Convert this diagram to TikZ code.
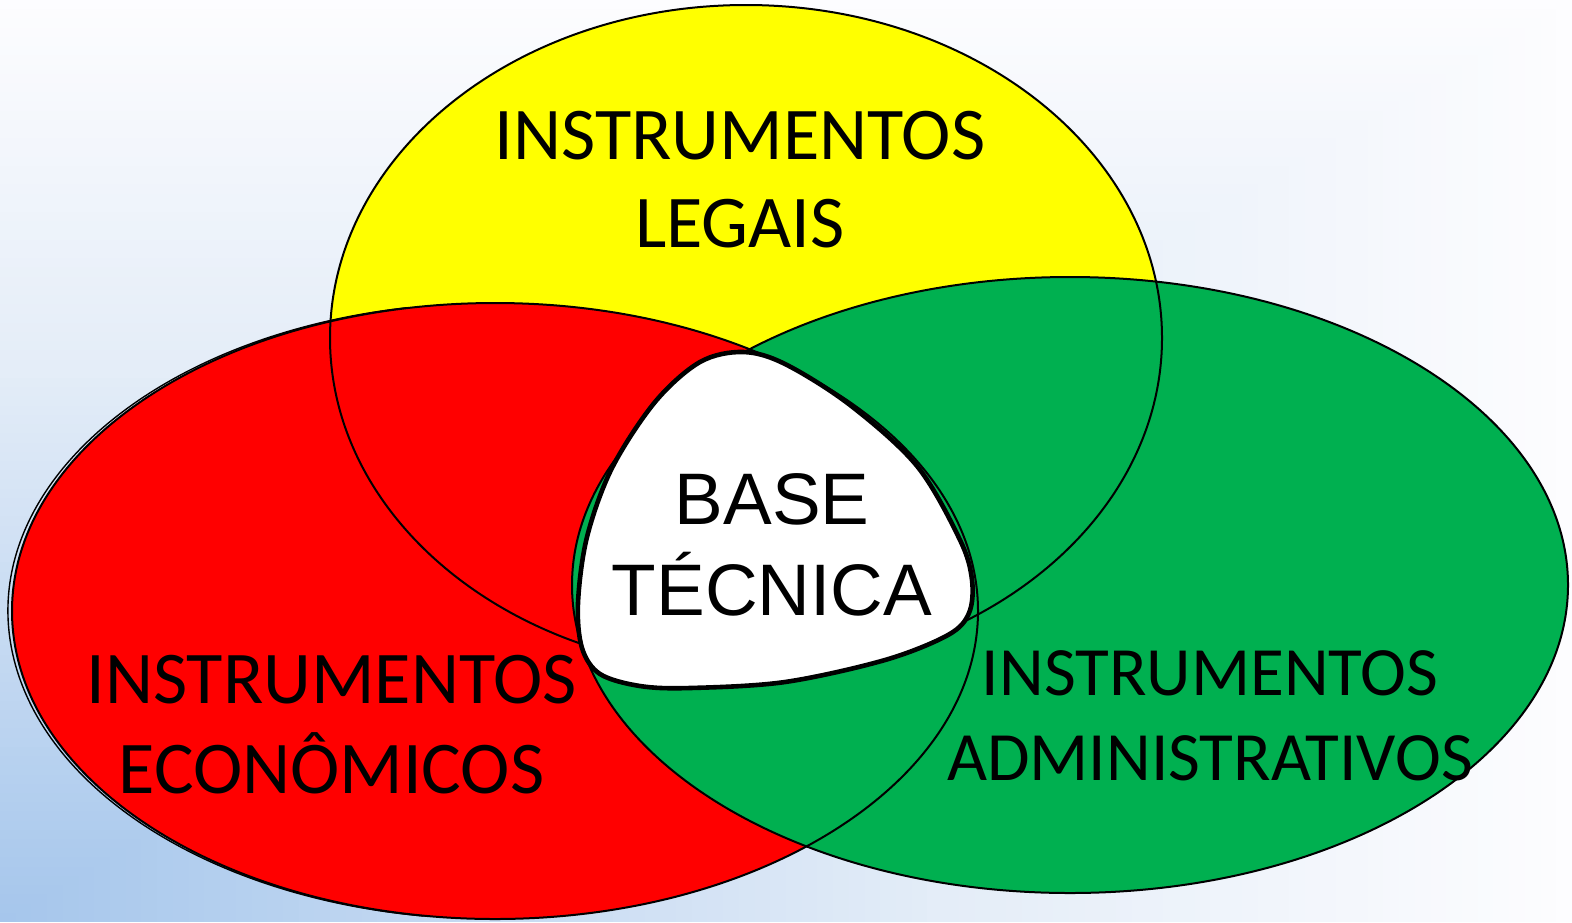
\documentclass[tikz,border=0pt]{standalone}
\usepackage{fontspec}
\newfontfamily\carlitofont{Carlito}
\newfontfamily\arialfont{Liberation Sans}
\definecolor{vyellow}{RGB}{255,255,0}
\definecolor{vred}{RGB}{255,0,0}
\definecolor{vgreen}{RGB}{0,176,80}
\begin{document}
\begin{tikzpicture}[x=0.5pt,y=-0.5pt,
  outline/.style={draw=black,line width=1pt},
  lbl/.style={inner sep=0pt, align=center, text=black}]
\useasboundingbox (0,0) rectangle (1572,922);
% background: rectangular gradient from the bottom-left corner
\foreach \i in {100,99,...,1}{
  \pgfmathsetmacro{\s}{\i/100}
  \pgfmathtruncatemacro{\rr}{\s<0.6 ? 165+(228-165)*\s/0.6 : 228+(253-228)*(\s-0.6)/0.4}
  \pgfmathtruncatemacro{\gg}{\s<0.6 ? 198+(237-198)*\s/0.6 : 237+(253-237)*(\s-0.6)/0.4}
  \pgfmathtruncatemacro{\bb}{\s<0.6 ? 236+(248-236)*\s/0.6 : 248+(255-248)*(\s-0.6)/0.4}
  \definecolor{bgtmp}{RGB}{\rr,\gg,\bb}
  \fill[bgtmp] (0,{922*(1-\s)}) rectangle ({1572*\s},922);
}
% centres
\coordinate (cy) at (746,338);
\coordinate (cr) at (495,611);
\coordinate (cg) at (1070,585);
\coordinate (cr2) at (491,611);
% fills
\fill[vyellow] (cy) ellipse [x radius=208pt, y radius=166.5pt];
\fill[vred] (cr) ellipse [x radius=241.5pt, y radius=154pt];
\fill[vgreen] (cg) ellipse [x radius=249pt, y radius=154pt];
% outlines
\path[outline] (cy) ellipse [x radius=208pt, y radius=166.5pt];
\path[outline] (cr) ellipse [x radius=241.5pt, y radius=154pt];
\path[outline] (cg) ellipse [x radius=249pt, y radius=154pt];
\draw[line width=0.7pt] ([shift={(100:241.5pt and 154pt)}]cr2) arc[start angle=100, end angle=262, x radius=241.5pt, y radius=154pt];
% central blob
\draw[fill=white, line width=2.3pt] plot[smooth cycle, tension=0.55] coordinates {
 (743,352) (700,362) (655,402) (612,468) (587,537) (578,603) (582,648) (600,674) (640,686) (690,688)
 (785,682) (885,660) (948,635) (969,613) (972,580) (960,540) (917,466) (850,405) (785,364)};
% labels
\node[lbl, font=\carlitofont\fontsize{37.2}{44}\selectfont] (legais) at (740,179.5) {INSTRUMENTOS\\LEGAIS};
\node[lbl, font=\carlitofont\fontsize{37.2}{45}\selectfont] (econ) at (331.5,725) {INSTRUMENTOS\\ECONÔMICOS};
\node[lbl, font=\carlitofont\fontsize{34.6}{42.5}\selectfont] (adm) at (1210,716) {INSTRUMENTOS\\ADMINISTRATIVOS};
\node[lbl, font=\arialfont\fontsize{36.5}{45.5}\selectfont] (base) at (772,544.5) {BASE\\TÉCNICA};
\end{tikzpicture}
\end{document}
